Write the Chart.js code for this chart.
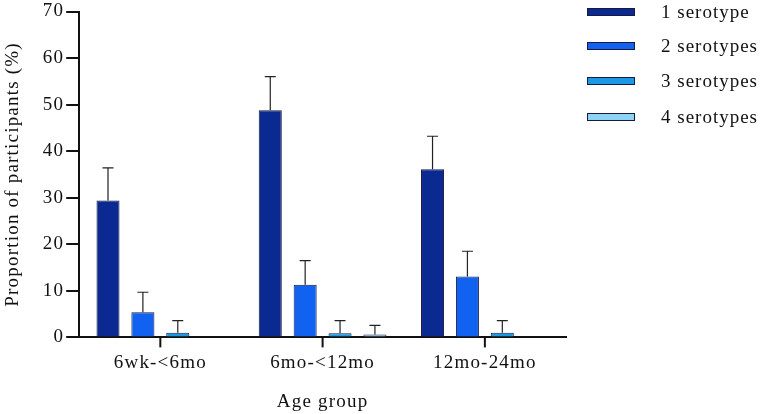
<!DOCTYPE html>
<html>
<head>
<meta charset="utf-8">
<script src="https://cdn.jsdelivr.net/npm/chart.js@4"></script>
<style>
  html, body { margin: 0; padding: 0; background: #fff; }
  #wrap { position: relative; width: 761px; height: 414px; }
  #legend { position: absolute; left: 587px; top: 0; font-family: "Liberation Serif", serif; font-size: 19px; letter-spacing: 1px; color: #111; }
  .item { position: absolute; left: 0; white-space: nowrap; }
  .box { position: absolute; left: 0; width: 46px; height: 6px; border: 1px solid #1a1a40; }
  .lbl { position: absolute; left: 74px; line-height: 19px; }
</style>
</head>
<body>
<div id="wrap">
  <canvas id="chart" width="761" height="414"></canvas>
  <div id="legend"></div>
</div>
<script>
const categories = ['6wk-<6mo', '6mo-<12mo', '12mo-24mo'];
const seriesNames = ['1 serotype', '2 serotypes', '3 serotypes', '4 serotypes'];

const serotype1 = [29.4, 48.8, 36.1];
const serotype2 = [5.4, 11.3, 13.1];
const serotype3 = [1.0, 0.9, 1.0];
const serotype4 = [0, 0.6, 0];

// upper end of the error bars
const serotype1Upper = [36.4, 56.0, 43.2];
const serotype2Upper = [9.7, 16.5, 18.5];
const serotype3Upper = [3.6, 3.6, 3.6];
const serotype4Upper = [null, 2.6, null];

const yTicks = [0, 10, 20, 30, 40, 50, 60, 70];

const colors = ['#0a2a92', '#1262f2', '#1a9ae4', '#8cd4f4'];
const values = [serotype1, serotype2, serotype3, serotype4];
const uppers = [serotype1Upper, serotype2Upper, serotype3Upper, serotype4Upper];

// legend as plain html so the box/text gap matches
const legendEl = document.getElementById('legend');
const legendTops = [8, 42, 77, 113];
seriesNames.forEach((name, i) => {
    const item = document.createElement('div');
    item.className = 'item';
    item.style.top = legendTops[i] + 'px';
    item.innerHTML = `<div class="box" style="background:${colors[i]}"></div><div class="lbl" style="top:-6px">${name}</div>`;
    legendEl.appendChild(item);
});

// the original text is set a little loose
const spacing = {
    id: 'spacing',
    beforeLayout(chart) { chart.ctx.letterSpacing = '1.2px'; },
    beforeDraw(chart) { chart.ctx.letterSpacing = '1.2px'; }
};

// tick marks under each age group
const xTickMarks = {
    id: 'xTickMarks',
    afterDraw(chart) {
        const ctx = chart.ctx;
        const x = chart.scales.x;
        const y0 = chart.chartArea.bottom;
        ctx.save();
        ctx.strokeStyle = '#111';
        ctx.lineWidth = 2;
        categories.forEach((c, i) => {
            const px = x.getPixelForValue(i);
            ctx.beginPath();
            ctx.moveTo(px, y0);
            ctx.lineTo(px, y0 + 10);
            ctx.stroke();
        });
        ctx.restore();
    }
};

const errorBars = {
    id: 'errorBars',
    afterDatasetsDraw(chart) {
        const ctx = chart.ctx;
        const yScale = chart.scales.y;
        ctx.save();
        ctx.strokeStyle = '#222';
        ctx.lineWidth = 1.2;
        chart.data.datasets.forEach((ds, di) => {
            const meta = chart.getDatasetMeta(di);
            meta.data.forEach((bar, i) => {
                const up = uppers[di][i];
                if (up == null) return;
                const yTop = yScale.getPixelForValue(up);
                ctx.beginPath();
                ctx.moveTo(bar.x, bar.y);
                ctx.lineTo(bar.x, yTop);
                ctx.moveTo(bar.x - 5.5, yTop);
                ctx.lineTo(bar.x + 5.5, yTop);
                ctx.stroke();
            });
        });
        ctx.restore();
    }
};

const font = { family: '"Liberation Serif", serif', size: 19 };

new Chart(document.getElementById('chart').getContext('2d'), {
    type: 'bar',
    data: {
        labels: categories,
        datasets: seriesNames.map((name, i) => ({
            label: name,
            data: values[i],
            backgroundColor: colors[i],
            borderColor: '#1a1a40',
            borderWidth: 1,
            barPercentage: 0.66,
            categoryPercentage: 0.86
        }))
    },
    options: {
        responsive: false,
        animation: false,
        layout: { padding: { left: 0, right: 195, top: 0, bottom: 0 } },
        plugins: { legend: { display: false }, tooltip: { enabled: false } },
        scales: {
            x: {
                grid: { display: false, tickLength: 7 },
                border: { display: true, color: '#111', width: 2 },
                ticks: { color: '#111', font: font, padding: 7, maxRotation: 0 },
                title: { display: true, text: 'Age group', color: '#111', font: font, padding: { top: 9, bottom: 1 } }
            },
            y: {
                min: 0,
                max: 70,
                afterBuildTicks: axis => { axis.ticks = yTicks.map(v => ({ value: v })); },
                grid: { drawOnChartArea: false, color: '#111', lineWidth: 2, tickLength: 13 },
                border: { color: '#111', width: 2 },
                ticks: { color: '#111', font: { family: font.family, size: 19, lineHeight: 1 }, padding: 2 },
                title: { display: true, text: 'Proportion of participants (%)', color: '#111', font: font, padding: { top: 2, bottom: 16 } }
            }
        }
    },
    plugins: [spacing, errorBars, xTickMarks]
});
</script>
</body>
</html>
